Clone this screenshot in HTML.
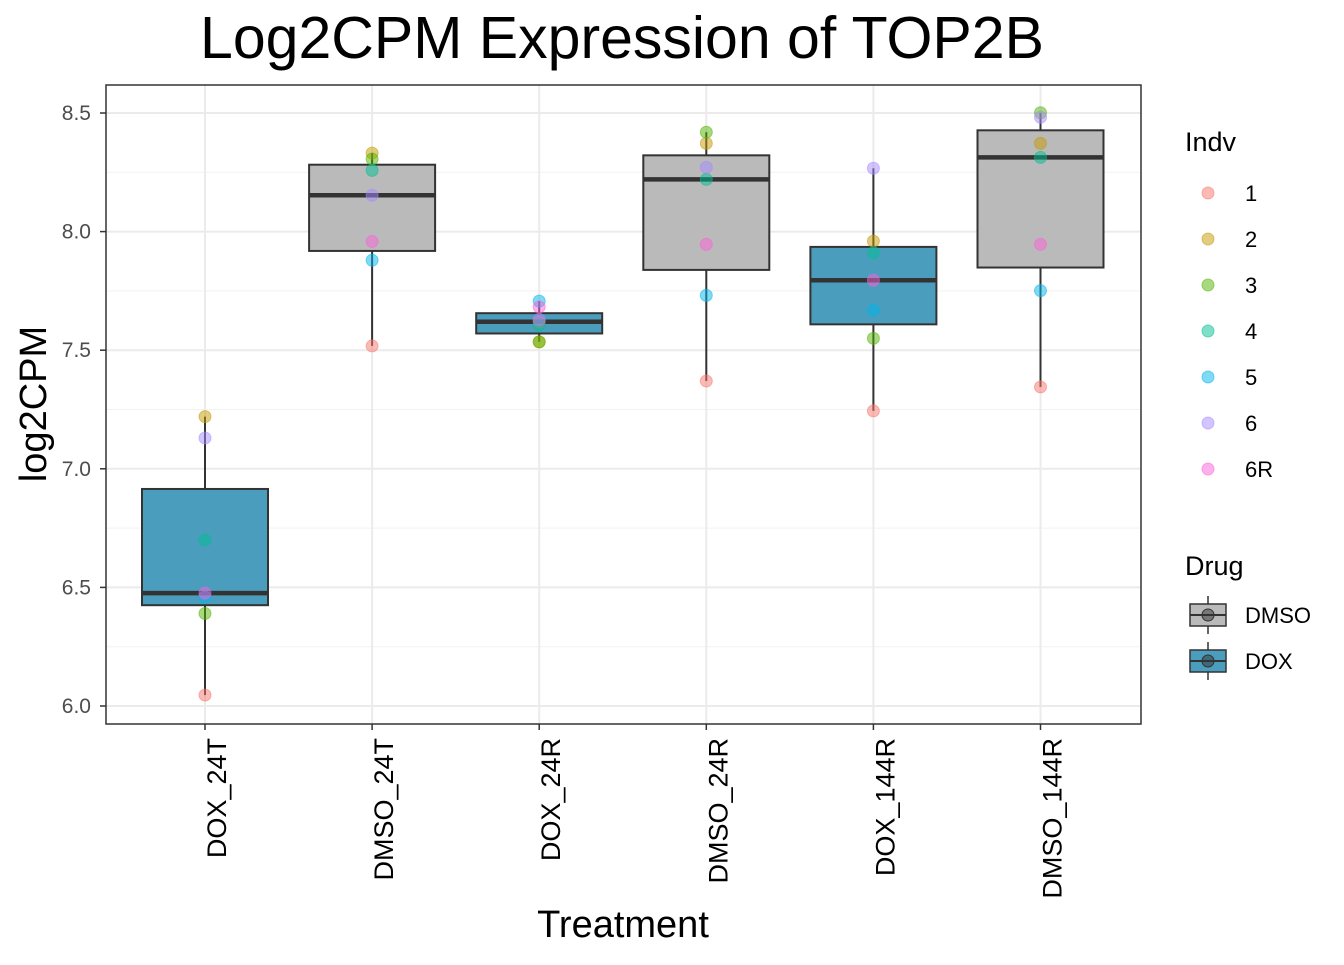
<!DOCTYPE html>
<html><head><meta charset="utf-8"><style>
body{margin:0;background:#fff;}
text{font-family:"Liberation Sans",Arial,sans-serif;}
</style></head><body>
<svg id="chart" width="1344" height="960" xmlns="http://www.w3.org/2000/svg">
<rect width="1344" height="960" fill="#fff"/>
<text x="622" y="58" font-size="59" text-anchor="middle" fill="#000">Log2CPM Expression of TOP2B</text>
<g id="grid"></g>
<g id="marks"></g>
<rect x="106" y="85" width="1035" height="639" fill="none" stroke="#333" stroke-width="1.5"/>
<g id="axes"></g>
<text x="623" y="937" font-size="38" text-anchor="middle">Treatment</text>
<text transform="translate(46,404) rotate(-90)" font-size="38" text-anchor="middle">log2CPM</text>
<g id="legend"></g>
</svg>
<script>
const categories=["DOX_24T","DMSO_24T","DOX_24R","DMSO_24R","DOX_144R","DMSO_144R"];
const drugs=["DOX","DMSO","DOX","DMSO","DOX","DMSO"];
const indvs=["1","2","3","4","5","6","6R"];
const indvColors=["#F8766D","#C49A00","#53B400","#00C094","#00B6EB","#A58AFF","#FB61D7"];
// values per category, ordered by indvs
const valsDOX_24T=[6.046,7.22,6.39,6.70,6.46,7.13,6.476];
const valsDMSO_24T=[7.518,8.331,8.306,8.258,7.879,8.153,7.958];
const valsDOX_24R=[7.62,7.535,7.535,7.606,7.707,7.63,7.682];
const valsDMSO_24R=[7.37,8.372,8.419,8.22,7.731,8.271,7.946];
const valsDOX_144R=[7.244,7.96,7.55,7.911,7.668,8.267,7.795];
const valsDMSO_144R=[7.345,8.372,8.501,8.313,7.751,8.482,7.946];
const allVals=[valsDOX_24T,valsDMSO_24T,valsDOX_24R,valsDMSO_24R,valsDOX_144R,valsDMSO_144R];
const yTicks=[6.0,6.5,7.0,7.5,8.0,8.5];
const drugFill={DMSO:"#BABABA",DOX:"#4A9DBD"};

const NS="http://www.w3.org/2000/svg";
const x0=106,x1=1141;
function y(v){return 706-(v-6)*237.2;}
function xc(i){return 205+i*167.1;}
function mk(tag,attrs,parent){const e=document.createElementNS(NS,tag);for(const k in attrs)e.setAttribute(k,attrs[k]);parent.appendChild(e);return e;}
function q(s,p){const h=(s.length-1)*p,l=Math.floor(h);return s[l]+(h-l)*((s[l+1]??s[l])-s[l]);}
const grid=document.getElementById('grid'),marks=document.getElementById('marks'),axes=document.getElementById('axes'),legend=document.getElementById('legend');
for(let i=0;i<yTicks.length;i++){
  const t=yTicks[i];
  const g=mk('line',{x1:x0,x2:x1,y1:y(t),y2:y(t),stroke:'#EBEBEB','stroke-width':2},grid);
  
  
  if(i<yTicks.length-1){const m=(t+yTicks[i+1])/2;const g2=mk('line',{x1:x0,x2:x1,y1:y(m),y2:y(m),stroke:'#F2F2F2','stroke-width':1},grid);
  
  }
  const tk=mk('line',{x1:100,x2:106,y1:y(t),y2:y(t),stroke:'#333','stroke-width':1.5},axes);
  
  
  const tl=mk('text',{x:91,y:y(t)+7,'font-size':21,'text-anchor':'end',fill:'#4D4D4D'},axes);
  tl.textContent=t.toFixed(1);
  
  
}
categories.forEach((c,i)=>{
  const cx=xc(i);
  const g=mk('line',{x1:cx,x2:cx,y1:85,y2:724,stroke:'#EBEBEB','stroke-width':2},grid);
  
  
  const tk=mk('line',{x1:cx,x2:cx,y1:724,y2:730,stroke:'#333','stroke-width':1.5},axes);
  
  
  const tl=mk('text',{transform:`translate(${cx+21},738) rotate(-90)`,'font-size':27,'text-anchor':'end',fill:'#000'},axes);
  tl.textContent=c;
  
  
  const s=[...allVals[i]].sort((a,b)=>a-b);
  const q1=q(s,0.25),med=q(s,0.5),q3=q(s,0.75),iqr=q3-q1;
  const lo=Math.min(...s.filter(v=>v>=q1-1.5*iqr)),hi=Math.max(...s.filter(v=>v<=q3+1.5*iqr));
  const w1=mk('line',{x1:cx,x2:cx,y1:y(hi),y2:y(q3),stroke:'#333','stroke-width':2},marks);
  
  
  const w2=mk('line',{x1:cx,x2:cx,y1:y(q1),y2:y(lo),stroke:'#333','stroke-width':2},marks);
  
  
  const b=mk('rect',{x:cx-63,y:y(q3),width:126,height:y(q1)-y(q3),fill:drugFill[drugs[i]],stroke:'#333','stroke-width':2},marks);
  
  
  const m=mk('line',{x1:cx-63,x2:cx+63,y1:y(med),y2:y(med),stroke:'#333','stroke-width':4.5},marks);
  
  
  allVals[i].forEach((v,j)=>{
    const p=mk('circle',{cx:cx,cy:y(v),r:6,fill:indvColors[j],'fill-opacity':0.5,stroke:indvColors[j],'stroke-opacity':0.5},marks);
    
    
  });
});
// legend
let t=mk('text',{x:1185,y:151,'font-size':27},legend);t.textContent='Indv';


indvs.forEach((d,j)=>{
  const yy=193+j*46;
  const c=mk('circle',{cx:1208,cy:yy,r:6,fill:indvColors[j],'fill-opacity':0.5,stroke:indvColors[j],'stroke-opacity':0.5},legend);
  
  
  const l=mk('text',{x:1245,y:yy+8,'font-size':22},legend);l.textContent=d;
  
  
});
t=mk('text',{x:1185,y:575,'font-size':27},legend);t.textContent='Drug';


["DMSO","DOX"].forEach((d,j)=>{
  const yy=615+j*46;
  const v=mk('line',{x1:1208,x2:1208,y1:yy-19,y2:yy+19,stroke:'#333','stroke-width':1.5},legend);
  
  
  const r=mk('rect',{x:1190,y:yy-11,width:36,height:22,fill:drugFill[d],stroke:'#333','stroke-width':1.5},legend);
  
  
  const ml=mk('line',{x1:1190,x2:1226,y1:yy,y2:yy,stroke:'#333','stroke-width':2},legend);
  
  
  const c=mk('circle',{cx:1208,cy:yy,r:6,fill:'#333','fill-opacity':0.5,stroke:'#333'},legend);
  
  
  const l=mk('text',{x:1245,y:yy+8,'font-size':22},legend);l.textContent=d;
  
  
});
</script>
</body></html>
